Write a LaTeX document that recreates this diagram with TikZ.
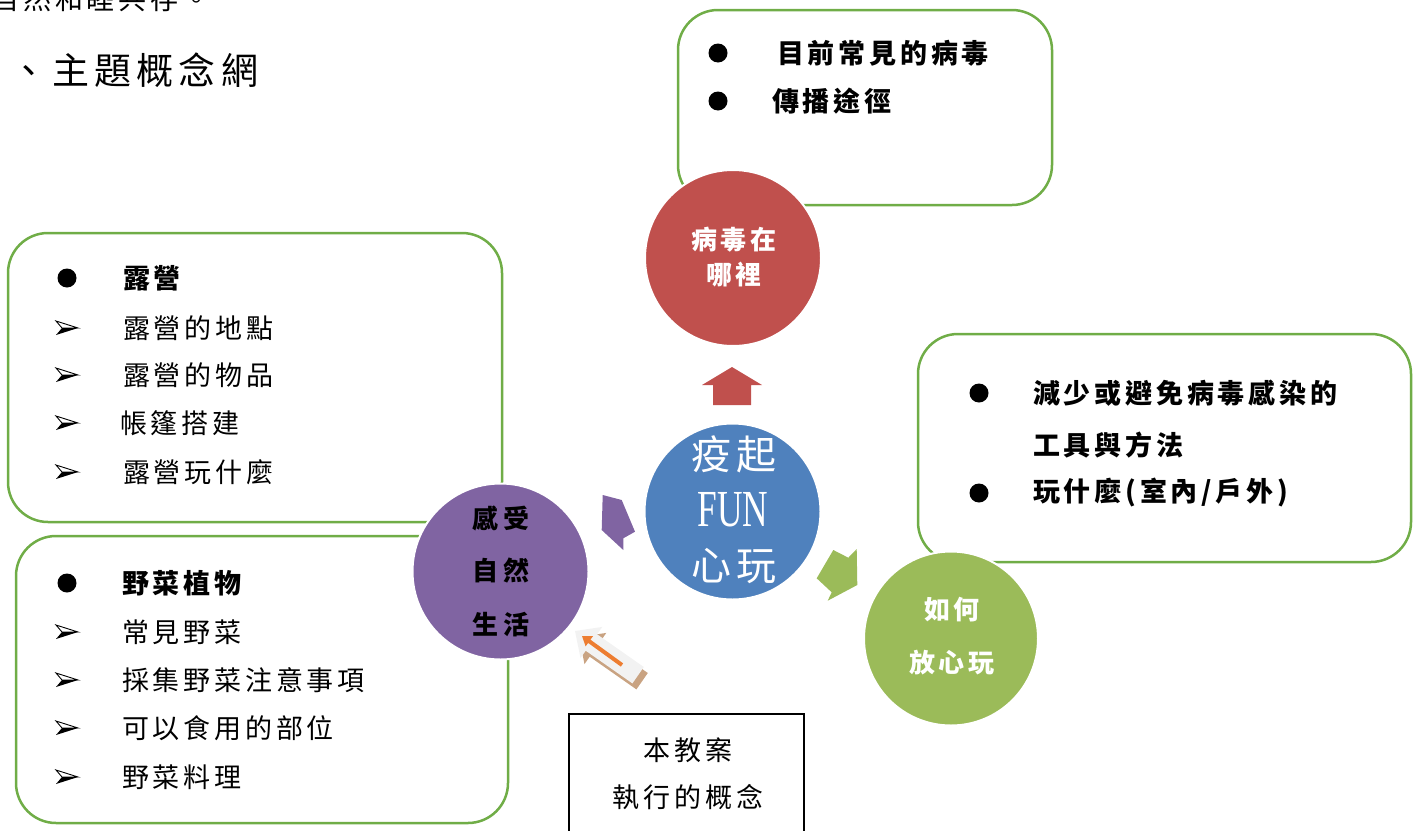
\documentclass[tikz,border=0pt]{standalone}
\usepackage{fontspec}
\usepackage{graphicx}
\setmainfont{Noto Sans CJK TC}[LetterSpace=14]
\newfontfamily\serifen{Liberation Serif}
\usetikzlibrary{arrows.meta}
\definecolor{boxgreen}{RGB}{112,173,71}
\definecolor{cred}{RGB}{192,80,77}
\definecolor{cblue}{RGB}{79,129,189}
\definecolor{cpurple}{RGB}{128,100,162}
\definecolor{cgreen}{RGB}{155,187,89}
\definecolor{corange}{RGB}{237,125,49}
\definecolor{cshadow}{RGB}{201,163,130}
\definecolor{clight}{RGB}{242,242,242}
\tikzset{
  gbox/.style={draw=boxgreen, line width=2.5pt, rounded corners=40pt, fill=white, inner sep=0pt},
  bigcirc/.style={circle, minimum size=176pt, inner sep=0pt, draw=white, line width=2pt},
  item/.style={anchor=west, inner sep=0pt, font=\fontsize{27}{30}\selectfont},
  bitem/.style={anchor=west, inner sep=0pt, font=\fontsize{27}{30}\selectfont\bfseries},
  ctext/.style={inner sep=0pt, font=\fontsize{26}{30}\selectfont\bfseries},
  dotbullet/.style={circle, fill=black, minimum size=19pt, inner sep=0pt},
  arrbullet/.pic={
    \draw[black, fill=white, line width=0.9pt, line join=miter] (-11,-7) -- (11,0) -- (-5,0) -- cycle;
    \fill[black] (-5,0) -- (11,0) -- (-11,7) -- cycle;
  }
}
\begin{document}
\begin{tikzpicture}[x=1pt, y=-1pt]
\useasboundingbox (0,0) rectangle (1419,830);
\clip (0,0) rectangle (1419,830);

% heading texts
\node[anchor=base west, inner sep=0pt, font=\fontsize{28}{30}\selectfont] (prev) at (-9,9) {自然和睦共存。};
\node[anchor=west, inner sep=0pt, font=\fontsize{37}{40}\selectfont] (title) at (10,70) {、主題概念網};

% boxes
\node[gbox, minimum width=374pt, minimum height=195pt] (boxtop) at (865,107.5) {};
\node[gbox, minimum width=493pt, minimum height=228pt] (boxright) at (1164.5,448) {};
\node[gbox, minimum width=494pt, minimum height=289pt] (boxlt) at (255,377.5) {};
\node[gbox, minimum width=492pt, minimum height=287pt] (boxlb) at (262,679.5) {};
\node[draw=black, line width=1.8pt, minimum width=235pt, minimum height=130pt, anchor=north west, inner sep=0pt] (concept) at (568,713) {};

% top box contents
\node[dotbullet] (tb1) at (718,53) {};
\node[dotbullet] (tb2) at (718,101) {};
\node[bitem] (tt1) at (777,53) {目前常見的病毒};
\node[bitem] (tt2) at (772,101) {傳播途徑};

% right box contents
\node[dotbullet] (rb1) at (979,393) {};
\node[dotbullet] (rb2) at (979,493) {};
\node[bitem] (rt1) at (1033,393) {減少或避免病毒感染的};
\node[bitem] (rt2) at (1033,445) {工具與方法};
\node[bitem] (rt3) at (1033,493) {玩什麼(室內/戶外)};

% left top box contents
\node[dotbullet] (lb0) at (67,278) {};
\pic at (67,328) {arrbullet};
\pic at (67,375) {arrbullet};
\pic at (67,423) {arrbullet};
\pic at (67,472) {arrbullet};
\node[bitem] (lt0) at (123,278) {露營};
\node[item] (lt1) at (123,328) {露營的地點};
\node[item] (lt2) at (123,375) {露營的物品};
\node[item] (lt3) at (120,423) {帳篷搭建};
\node[item] (lt4) at (123,472) {露營玩什麼};

% left bottom box contents
\node[dotbullet] (mb0) at (67,583) {};
\pic at (67,632) {arrbullet};
\pic at (67,680) {arrbullet};
\pic at (67,728) {arrbullet};
\pic at (67,777) {arrbullet};
\node[bitem] (mt0) at (122,583) {野菜植物};
\node[item] (mt1) at (122,632) {常見野菜};
\node[item] (mt2) at (122,680) {採集野菜注意事項};
\node[item] (mt3) at (122,728) {可以食用的部位};
\node[item] (mt4) at (122,777) {野菜料理};

% concept box text
\node[inner sep=0pt, font=\fontsize{27}{30}\selectfont] (ct1) at (688,750) {本教案};
\node[inner sep=0pt, font=\fontsize{27}{30}\selectfont] (ct2) at (688,797) {執行的概念};

% circles
\node[bigcirc, fill=cred] (virus) at (733,258) {};
\node[bigcirc, fill=cblue] (center) at (732.5,511.5) {};
\node[bigcirc, fill=cpurple] (nature) at (500.5,571.5) {};
\node[bigcirc, fill=cgreen, minimum size=174pt] (safe) at (951,638.5) {};

\node[ctext, text=white] (v1) at (734,240) {病毒在};
\node[ctext, text=white] (v2) at (734,275) {哪裡};

\node[inner sep=0pt, text=white, font=\fontsize{40}{44}\selectfont] (c1) at (734,454) {疫起};
\node[inner sep=0pt, text=white, font=\fontsize{52}{56}\serifen] (c2) at (733,510) {\scalebox{0.68}[1]{FUN}};
\node[inner sep=0pt, text=white, font=\fontsize{40}{44}\selectfont] (c3) at (734,566) {心玩};

\node[ctext, text=black] (n1) at (501,518) {感\hspace{6pt}受};
\node[ctext, text=black] (n2) at (501,570) {自\hspace{6pt}然};
\node[ctext, text=black] (n3) at (501,625) {生\hspace{6pt}活};

\node[ctext, text=white] (s1) at (952,610) {如何};
\node[ctext, text=white] (s2) at (952,663) {放心玩};

% block arrows
\fill[cred] (702,385) -- (732,367) -- (762,385) -- (751,385) -- (751,405) -- (713,405) -- (713,385) -- cycle;
\fill[cgreen] (833.3,550) -- (848.3,557.7) -- (856.7,549) -- (857.3,585) -- (827.7,600.7) -- (831.7,592.3) -- (816.7,578.3) -- cycle;
\fill[cpurple] (602.7,495) -- (621.7,500) -- (635,531.7) -- (623.3,538.3) -- (623.3,550) -- (601.7,530) -- cycle;

% hollow arrow pointing to the purple circle
\fill[cshadow] (579,637) -- (606.3,632.9) -- (601.1,640.3) -- (647.8,673) -- (636.4,689.4) -- (589.7,656.7) -- (584.5,664.1) -- cycle;
\fill[clight] (575,631) -- (602.3,626.9) -- (597.1,634.3) -- (643.8,667) -- (632.4,683.4) -- (585.7,650.7) -- (580.5,658.1) -- cycle;
\coordinate (oa) at (622,665);
\coordinate (ob) at (582,636);
\draw[corange, line width=4pt, -{Triangle[length=9pt,width=12pt]}] (oa) -- (ob);
\end{tikzpicture}
\end{document}
